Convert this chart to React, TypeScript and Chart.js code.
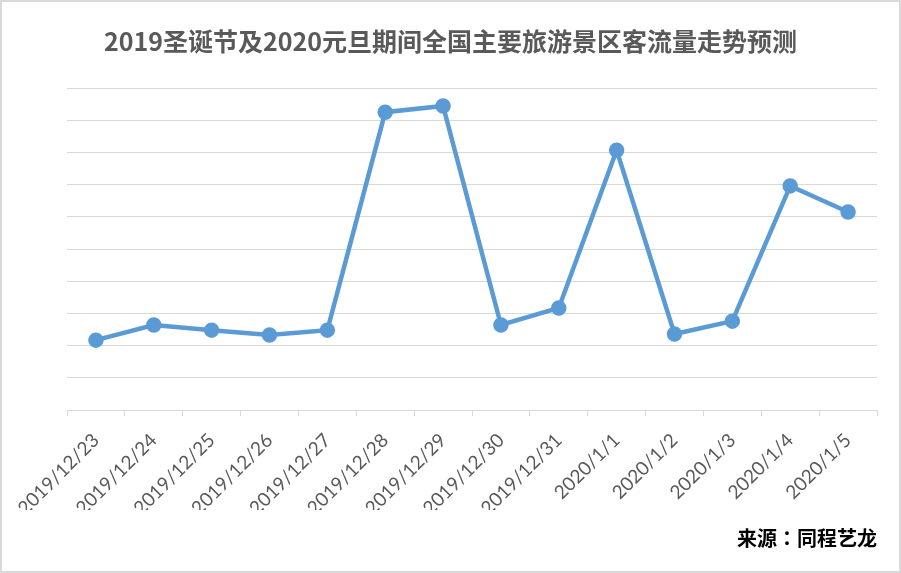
import React, { useEffect, useRef } from "react";
import { Chart, registerables } from "chart.js";

Chart.register(...registerables);

const title = "2019圣诞节及2020元旦期间全国主要旅游景区客流量走势预测";
const source = "来源：同程艺龙";
const categories = [
  "2019/12/23", "2019/12/24", "2019/12/25", "2019/12/26", "2019/12/27",
  "2019/12/28", "2019/12/29", "2019/12/30", "2019/12/31",
  "2020/1/1", "2020/1/2", "2020/1/3", "2020/1/4", "2020/1/5",
];
const values = [2.17, 2.64, 2.48, 2.33, 2.48, 9.25, 9.44, 2.64, 3.17, 8.07, 2.36, 2.76, 6.96, 6.15];

export default function App() {
  const ref = useRef<HTMLCanvasElement>(null);
  useEffect(() => {
    document.body.style.margin = "0";
    const chart = new Chart(ref.current!, {
      type: "line",
      data: {
        labels: categories,
        datasets: [{
          data: values,
          borderColor: "#5B9BD5",
          backgroundColor: "#5B9BD5",
          borderWidth: 4.5,
          pointRadius: 5.5,
          pointHoverRadius: 5.5,
          pointBackgroundColor: "#5B9BD5",
          pointBorderColor: "#5B9BD5",
          tension: 0,
        }],
      },
      options: {
        responsive: false,
        animation: false,
        layout: { padding: { left: 65, right: 22, top: 86, bottom: 61 } },
        plugins: { legend: { display: false }, tooltip: { enabled: false }, title: { display: false } },
        scales: {
          x: {
            offset: true,
            grid: { display: true, drawOnChartArea: false, drawTicks: true, tickLength: 6, color: "#D9D9D9", offset: true },
            border: { display: true, color: "#D9D9D9", width: 1 },
            ticks: {
              maxRotation: 45, minRotation: 45, autoSkip: false,
              color: "#595959",
              font: { family: "Lato, 'Liberation Sans', sans-serif", size: 19 },
              padding: 13,
            },
            afterFit: (s: any) => { s.height = 100; },
          },
          y: {
            min: 0, max: 10,
            ticks: { display: false, stepSize: 1 },
            grid: { color: "#D9D9D9", lineWidth: 1, drawTicks: false },
            border: { display: false },
            afterFit: (s: any) => { s.width = 0; },
          },
        },
      },
    });
    return () => chart.destroy();
  }, []);
  return (
    <div style={{ position: "relative", width: 901, height: 573, boxSizing: "border-box", border: "2px solid #D9D9D9", background: "#fff" }}>
      <canvas ref={ref} width={897} height={569} style={{ position: "absolute", left: 0, top: 0, width: 897, height: 569 }} />
      <div style={{ position: "absolute", left: 0, width: 897, top: 22, textAlign: "center", fontFamily: "'Noto Sans CJK SC', sans-serif", fontWeight: 700, fontSize: 25, color: "#595959", lineHeight: "32px" }}>{title}</div>
      <div style={{ position: "absolute", right: 22, top: 522, fontFamily: "'Noto Sans CJK TC', 'Noto Sans CJK SC', sans-serif", fontWeight: 700, fontSize: 20, color: "#000", lineHeight: "28px" }}>{source}</div>
    </div>
  );
}
